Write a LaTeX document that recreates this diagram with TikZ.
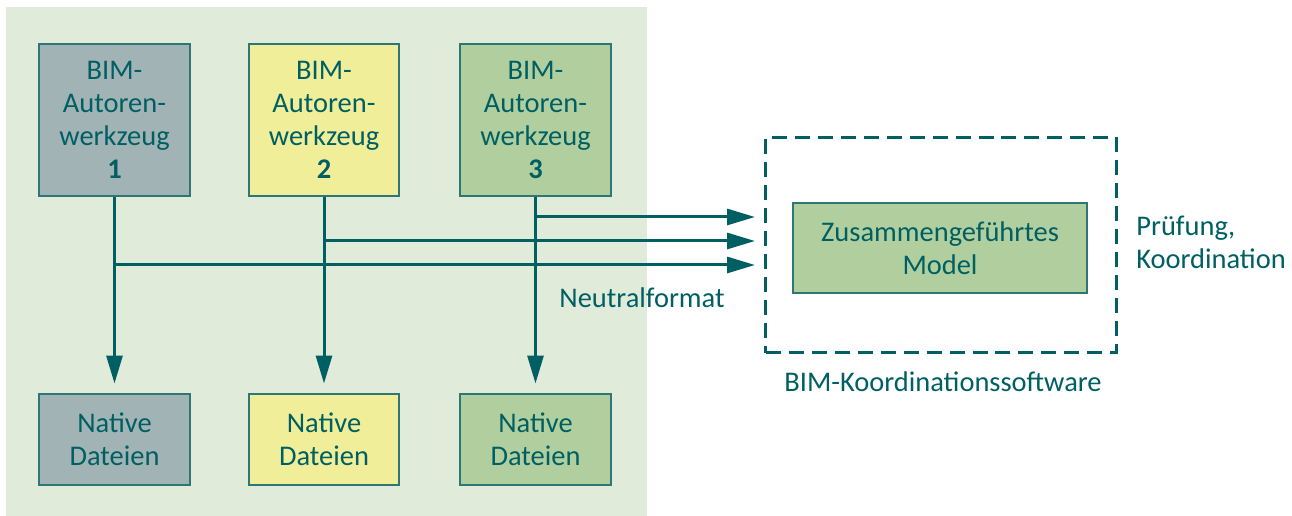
\documentclass[tikz,border=0pt]{standalone}
\usepackage{fontspec}
\setmainfont{Carlito}
\usetikzlibrary{arrows.meta}
\definecolor{petrol}{HTML}{005F63}
\definecolor{rahmen}{HTML}{2E7775}
\definecolor{hgruen}{HTML}{E1EBDA}
\definecolor{grau}{HTML}{A1B3B5}
\definecolor{gelb}{HTML}{F1EE9A}
\definecolor{gruen}{HTML}{B1CF9E}
\begin{document}
\begin{tikzpicture}[x=0.02cm, y=-0.02cm, >={Triangle[length=5.6mm,width=3.2mm]}, line width=0.6mm, draw=petrol,
  every node/.style={text=petrol, font=\fontsize{16.2}{18.7}\selectfont, align=center},
  toolbox/.style={draw=rahmen, line width=0.4mm, minimum width=3.02cm, minimum height=3.04cm, inner sep=0pt},
  filebox/.style={draw=rahmen, line width=0.4mm, minimum width=3.02cm, minimum height=1.84cm, inner sep=0pt}]
\useasboundingbox (0,0) rectangle (1292,516);
\fill[hgruen] (6,7) rectangle (647,516);
\node[toolbox, fill=grau] (t1) at (114.5,120) {BIM-\\Autoren-\\werkzeug\\\textbf{1}};
\node[toolbox, fill=gelb] (t2) at (324,120) {BIM-\\Autoren-\\werkzeug\\\textbf{2}};
\node[toolbox, fill=gruen] (t3) at (535.5,120) {BIM-\\Autoren-\\werkzeug\\\textbf{3}};
\node[filebox, fill=grau] (n1) at (114.5,439.5) {Native\\Dateien};
\node[filebox, fill=gelb] (n2) at (324,439.5) {Native\\Dateien};
\node[filebox, fill=gruen] (n3) at (535.5,439.5) {Native\\Dateien};
\node[draw=petrol, dashed, dash pattern=on 3mm off 1.6mm, minimum width=7.02cm, minimum height=4.32cm] (koord) at (941,245) {};
\node[draw=rahmen, line width=0.4mm, fill=gruen, minimum width=5.88cm, minimum height=1.8cm] (modell) at (940,248) {Zusammengeführtes\\Model};
\node (software) at (943,382) {BIM-Koordinationssoftware};
\node (neutral) at (642,298) {Neutralformat};
\node[anchor=west, align=left] (pruefung) at (1129,242) {Prüfung,\\Koordination};
\coordinate (e3) at (755,217);
\coordinate (e2) at (755,241);
\coordinate (e1) at (755,265);
\draw[->, shorten >=1.8mm] (t1) -- (n1);
\draw[->, shorten >=1.8mm] (t2) -- (n2);
\draw[->, shorten >=1.8mm] (t3) -- (n3);
\draw[->] (t1 |- e1) -- (e1);
\draw[->] (t2 |- e2) -- (e2);
\draw[->] (t3 |- e3) -- (e3);
\end{tikzpicture}
\end{document}
